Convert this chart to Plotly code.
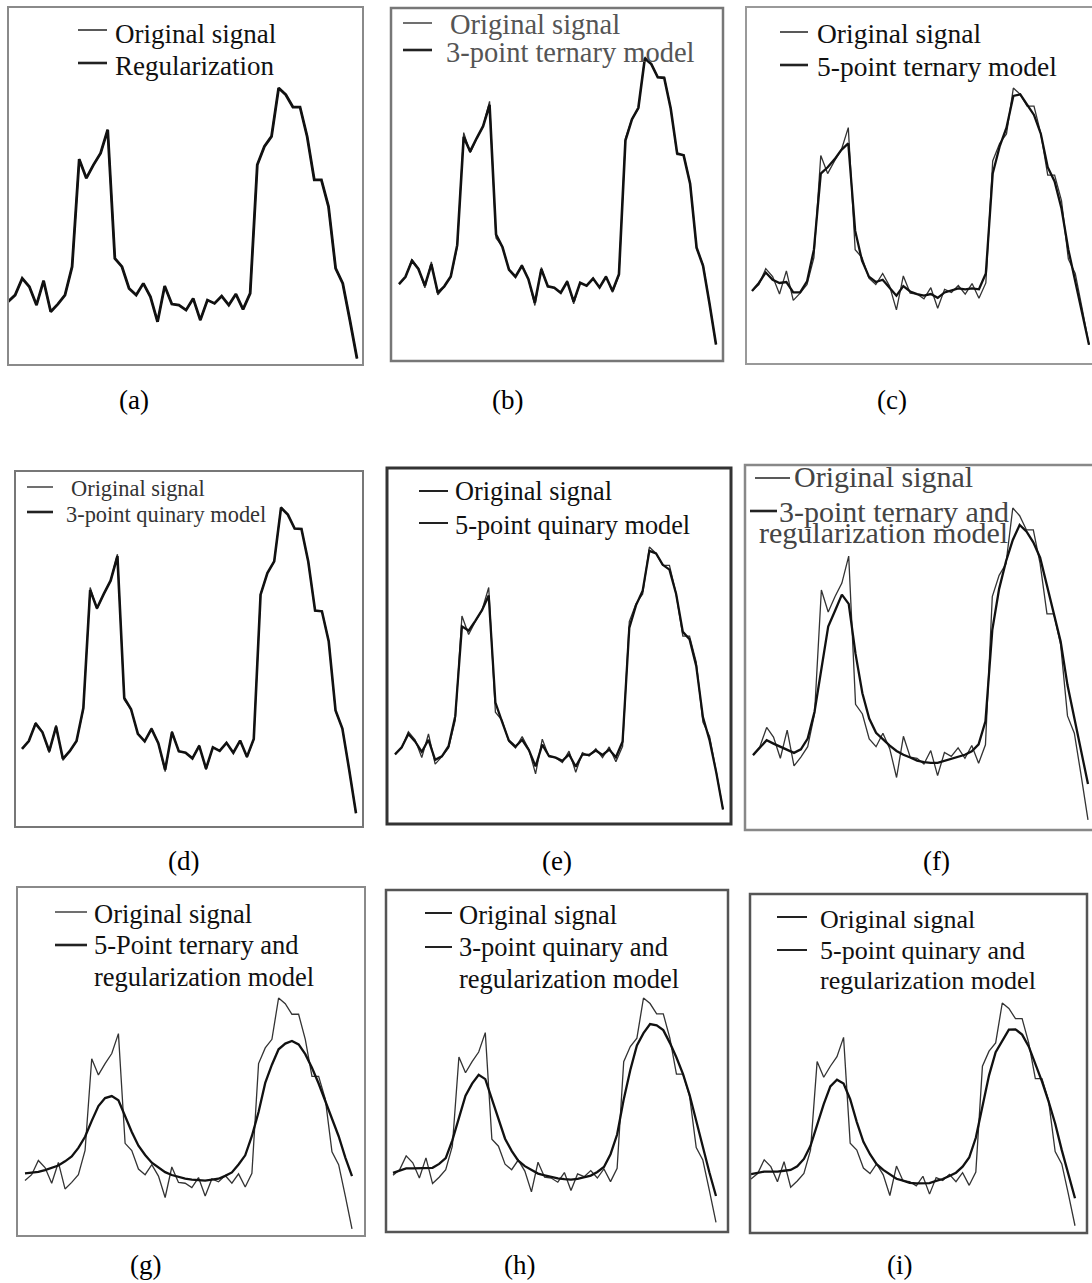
import plotly.graph_objects as go

W, H = 1092, 1283

# ---------------- data ----------------
sample_index = list(range(50))

original_signal = [19, 21, 26, 23.5, 18, 25.3, 16, 18.3, 21, 29.5,
                   61.7, 56, 60, 63.5, 70.5, 32, 29.5, 23, 21, 24.5,
                   20.5, 13, 23.7, 18.3, 18, 16.5, 20, 13.5, 19.5, 18.5,
                   20.7, 18, 21.3, 16.7, 21.5, 60, 65.5, 68.5, 83, 81,
                   77.3, 77.3, 68.5, 55.5, 55.5, 47.5, 29, 24.5, 13.5, 2]

regularization = [19, 21, 26, 23.5, 18, 25.3, 16, 18.3, 21, 29.5,
                  61.7, 56, 60, 63.5, 70.5, 32, 29.5, 23, 21, 24.5,
                  20.5, 13, 23.7, 18.3, 18, 16.5, 20, 13.5, 19.5, 18.5,
                  20.7, 18, 21.3, 16.7, 21.5, 60, 65.5, 68.5, 83, 81,
                  77.3, 77.3, 68.5, 55.5, 55.5, 47.5, 29, 24.5, 13.5, 2]

ternary3 = [19, 21.1, 25.6, 23.3, 18.6, 24.6, 16.6, 18.4, 21.2, 30,
            60.5, 56.4, 60.1, 63.5, 69.5, 33, 29.4, 23.1, 21.1, 24.2,
            20.4, 13.8, 23.2, 18.4, 18, 16.6, 19.7, 14.1, 19.4, 18.6,
            20.6, 18.1, 21.1, 17.1, 21.8, 59.5, 65.4, 68.7, 82.6, 81,
            77.3, 77.1, 68.5, 55.8, 55.3, 47.3, 29.3, 24.2, 13.5, 2]

ternary5 = [19, 21.5, 24.8, 22.5, 21.5, 21.8, 18.5, 18.5, 22, 32,
            56, 58, 60.5, 63.5, 65.5, 38, 28.5, 23.5, 21.8, 22.5,
            20, 17.5, 20.5, 18.8, 18, 17.5, 18, 16.8, 18.5, 19.2,
            19.8, 19.5, 19.8, 19.5, 24.5, 56, 64.5, 70.5, 80.5, 81,
            77.8, 74.5, 68.5, 58, 53.5, 45, 32, 22, 13, 2]

quinary3 = [19, 21.1, 25.7, 23.4, 18.4, 24.9, 16.4, 18.4, 21.1, 29.8,
            61, 56.2, 60, 63.5, 70, 32.5, 29.5, 23, 21, 24.3,
            20.5, 13.5, 23.4, 18.4, 18, 16.5, 19.8, 13.8, 19.4, 18.5,
            20.6, 18, 21.2, 16.9, 21.6, 59.8, 65.5, 68.6, 82.8, 81,
            77.3, 77.2, 68.5, 55.6, 55.4, 47.4, 29.2, 24.4, 13.5, 2]

quinary5 = [19, 21.2, 25.3, 23, 19.8, 23.5, 17.3, 18.4, 21.5, 30.8,
            58.5, 57.2, 60.2, 63.5, 68, 35, 29, 23.3, 21.4, 23.5,
            20.3, 15.3, 22, 18.5, 18, 17, 19, 15.2, 19, 18.8,
            20.2, 18.8, 20.5, 18.1, 23, 58, 65, 69.5, 81.8, 81,
            77.5, 76, 68.5, 56.8, 54.5, 46.3, 30.5, 23.3, 13.3, 2]

ternary3_reg = [18.8, 20.8, 22.7, 21.8, 21.0, 20.1, 19.4, 20.3, 23.1, 30.1,
                41.4, 52.2, 56.3, 60.5, 58.1, 45.1, 34.9, 28.3, 24.6, 22.9,
                21.3, 19.9, 18.9, 18.2, 17.4, 17.0, 16.8, 16.8, 17.3, 17.9,
                18.4, 18.9, 19.8, 21.6, 27.6, 51.3, 62.0, 69.1, 74.7, 78.6,
                76.9, 74.1, 70.1, 63.0, 55.9, 48.3, 37.0, 28.1, 20.2, 11.3]

ternary5_reg = [21.5, 21.8, 22.0, 22.6, 23.4, 24.2, 25.7, 27.4, 30.4, 34.3,
                39.9, 45.1, 47.9, 48.6, 47.1, 41.5, 36.0, 31.2, 27.9, 25.2,
                23.5, 21.9, 20.9, 20.2, 19.6, 19.3, 19.1, 18.9, 19.3, 19.6,
                20.6, 21.8, 24.6, 27.8, 34.6, 43.0, 53.2, 59.6, 65.0, 67.0,
                67.9, 66.7, 63.3, 58.5, 53.0, 47.0, 40.7, 34.5, 27.0, 20.5]

quinary3_reg = [19.9, 20.7, 21.5, 21.5, 21.5, 21.6, 21.7, 23.1, 25.2, 31.6,
                39.3, 47.7, 52.1, 55.3, 53.7, 46.7, 39.0, 32.2, 27.8, 24.3,
                22.3, 20.8, 19.6, 19.0, 18.4, 17.9, 17.6, 17.4, 17.7, 18.2,
                18.9, 20.2, 22.0, 26.6, 33.7, 46.4, 57.0, 65.9, 70.3, 73.6,
                73.1, 71.4, 66.8, 61.5, 55.5, 48.0, 38.6, 29.0, 20.0, 11.5]

quinary5_reg = [20.8, 21.3, 21.7, 21.7, 21.7, 22.0, 22.3, 23.6, 26.3, 31.1,
                38.6, 46.2, 52.7, 55.1, 53.7, 48.0, 39.7, 32.5, 28.0, 24.4,
                22.3, 20.6, 19.1, 18.4, 17.6, 17.4, 17.4, 17.5, 18.3, 19.0,
                20.1, 21.3, 23.5, 26.8, 34.0, 45.6, 56.7, 65.1, 69.2, 73.3,
                73.4, 71.5, 67.2, 60.8, 54.5, 47.2, 39.2, 29.5, 20.9, 12.0]

panel_labels = ["(a)", "(b)", "(c)", "(d)", "(e)", "(f)", "(g)", "(h)", "(i)"]
legend_texts = [
    ["Original signal", "Regularization"],
    ["Original signal", "3-point ternary model"],
    ["Original signal", "5-point ternary model"],
    ["Original signal", "3-point quinary model"],
    ["Original signal", "5-point quinary model"],
    ["Original signal", "3-point ternary and", "regularization model"],
    ["Original signal", "5-Point ternary and", "regularization model"],
    ["Original signal", "3-point quinary and", "regularization model"],
    ["Original signal", "5-point quinary and", "regularization model"],
]
model_series = [regularization, ternary3, ternary5, quinary3, quinary5,
                ternary3_reg, ternary5_reg, quinary3_reg, quinary5_reg]

# ---------------- layout / style (pixels) ----------------
# frame (L, T, R, B), x px of first/last sample, y px of signal peak, px per unit
panels = [
    dict(frame=(8, 7, 363, 365), x0=8, x49=357, peak=88, s=3.34, fc="#8a8a8a", fw=2,
         tc="#111", fs=27, tx=[(113, 34), (113, 66)],
         samples=[(78, 107, 30, 1.5), (78, 107, 63, 2.6)], cap=(134, 400),
         ow=1.6, mw=2.8),
    dict(frame=(391, 8, 723, 361), x0=399, x49=716, peak=57, s=3.55, fc="#777", fw=2.5,
         tc="#555", fs=28.5, tx=[(448, 25), (444, 52)],
         samples=[(403, 432, 23, 1.3), (403, 432, 50, 2.6)], cap=(507, 400),
         ow=1.3, mw=2.6),
    dict(frame=(746, 7, 1096, 364), x0=752, x49=1089, peak=88, s=3.17, fc="#999", fw=2,
         tc="#111", fs=27.5, tx=[(815, 34), (815, 66)],
         samples=[(780, 808, 32, 1.5), (780, 808, 65, 2.6)], cap=(892, 400),
         ow=1.3, mw=2.3),
    dict(frame=(15, 471, 363, 827), x0=22, x49=356, peak=507, s=3.78, fc="#777", fw=2,
         tc="#333", fs=22.4, tx=[(69, 488), (64, 514)],
         samples=[(27, 53, 487, 1.3), (27, 53, 512, 2.6)], cap=(183, 861),
         ow=1.3, mw=2.6),
    dict(frame=(387, 468, 731, 824), x0=395, x49=723, peak=547, s=3.24, fc="#333", fw=3,
         tc="#111", fs=26.3, tx=[(453, 492), (453, 525)],
         samples=[(419, 448, 491, 2), (419, 448, 523, 2)], cap=(557, 861),
         ow=1.3, mw=2.3),
    dict(frame=(745, 465, 1096, 830), x0=753, x49=1088, peak=508, s=3.85, fc="#888", fw=2.5,
         tc="#444", fs=30, tx=[(792, 476), (777, 512), (757, 533)],
         samples=[(755, 790, 478, 1.5), (750, 777, 511, 2.6)], cap=(936, 861),
         ow=1.3, mw=2.3),
    dict(frame=(17, 887, 365, 1236), x0=25, x49=352, peak=998, s=2.85, fc="#8a8a8a", fw=2,
         tc="#111", fs=26.5, tx=[(92, 914), (92, 945), (92, 977)],
         samples=[(55, 87, 912, 1.3), (55, 87, 945, 2.6)], cap=(145, 1265),
         ow=1.3, mw=2.3),
    dict(frame=(386, 890, 728, 1232), x0=393, x49=716, peak=998, s=2.77, fc="#555", fw=2.5,
         tc="#111", fs=26.5, tx=[(457, 915), (457, 947), (457, 979)],
         samples=[(425, 452, 913, 2), (425, 452, 947, 2)], cap=(519, 1265),
         ow=1.3, mw=2.3),
    dict(frame=(750, 894, 1087, 1233), x0=751, x49=1075, peak=1003, s=2.75, fc="#555", fw=2.5,
         tc="#111", fs=26, tx=[(818, 919), (818, 950), (818, 980)],
         samples=[(777, 807, 917, 2), (777, 807, 950, 2)], cap=(899, 1265),
         ow=1.3, mw=2.3),
]

FONT = "Liberation Serif, Times New Roman, serif"
ref_peak = max(original_signal)
n_last = len(sample_index) - 1

fig = go.Figure()
shapes = []
annotations = []
layout_axes = {}


def px(x):
    return x / W


def py(y):
    return 1 - y / H


for i, p in enumerate(panels):
    k = i + 1
    L, T, R, B = p["frame"]
    dl, dr = max(L, 0), min(R, W)
    d = (p["x49"] - p["x0"]) / n_last
    xr = [(dl - p["x0"]) / d, (dr - p["x0"]) / d]
    yr = [ref_peak - (B - p["peak"]) / p["s"], ref_peak + (p["peak"] - T) / p["s"]]
    xa = "x" if k == 1 else f"x{k}"
    ya = "y" if k == 1 else f"y{k}"
    layout_axes["xaxis" if k == 1 else f"xaxis{k}"] = dict(
        domain=[px(dl), px(dr)], range=xr, visible=False, anchor=ya, fixedrange=True)
    layout_axes["yaxis" if k == 1 else f"yaxis{k}"] = dict(
        domain=[py(B), py(T)], range=yr, visible=False, anchor=xa, fixedrange=True)

    fig.add_trace(go.Scatter(x=sample_index, y=original_signal, mode="lines",
                             line=dict(color="#333", width=p["ow"]),
                             xaxis=xa, yaxis=ya, name=legend_texts[i][0],
                             showlegend=False, hoverinfo="skip"))
    fig.add_trace(go.Scatter(x=sample_index, y=model_series[i], mode="lines",
                             line=dict(color="#111", width=p["mw"]),
                             xaxis=xa, yaxis=ya, name=" ".join(legend_texts[i][1:]),
                             showlegend=False, hoverinfo="skip"))

    shapes.append(dict(type="rect", xref="paper", yref="paper",
                       x0=px(L), x1=px(R), y0=py(B), y1=py(T),
                       line=dict(color=p["fc"], width=p["fw"]), layer="above"))
    for (x1, x2, y, w) in p["samples"]:
        shapes.append(dict(type="line", xref="paper", yref="paper",
                           x0=px(x1), x1=px(x2), y0=py(y), y1=py(y),
                           line=dict(color="#222", width=w)))
    for txt, (tx, ty) in zip(legend_texts[i], p["tx"]):
        annotations.append(dict(text=txt, x=px(tx), y=py(ty), xref="paper", yref="paper",
                                xanchor="left", yanchor="middle", showarrow=False,
                                font=dict(family=FONT, size=p["fs"], color=p["tc"])))
    cx, cy = p["cap"]
    annotations.append(dict(text=panel_labels[i], x=px(cx), y=py(cy), xref="paper",
                            yref="paper", xanchor="center", yanchor="middle",
                            showarrow=False, font=dict(family=FONT, size=27, color="#000")))

fig.update_layout(width=W, height=H, autosize=False,
                  margin=dict(l=0, r=0, t=0, b=0, pad=0),
                  paper_bgcolor="white", plot_bgcolor="white",
                  shapes=shapes, annotations=annotations, **layout_axes)

fig.write_html("out.html", config={"displayModeBar": False},
               post_script="document.body.style.margin='0';document.body.style.overflow='hidden';")
